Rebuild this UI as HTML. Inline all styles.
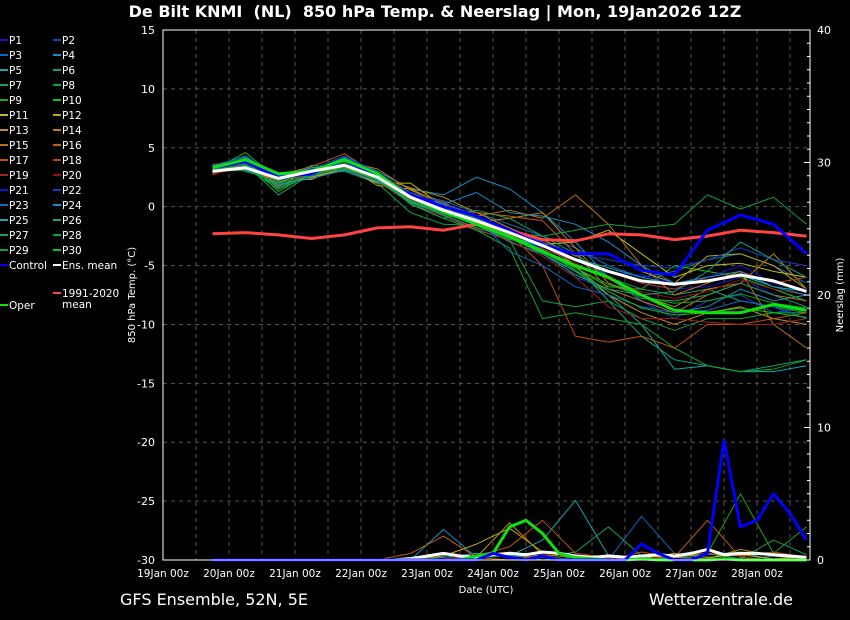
<!DOCTYPE html>
<html><head><meta charset="utf-8"><style>
html,body{margin:0;padding:0;background:#000;}
svg{display:block;font-family:"DejaVu Sans","Liberation Sans",sans-serif;}
</style></head><body>
<svg id="chart" width="850" height="620" viewBox="0 0 850 620" xmlns="http://www.w3.org/2000/svg">
<rect width="850" height="620" fill="#000"/>
<text x="435" y="17" fill="#fff" font-size="16" font-weight="bold" text-anchor="middle" style="white-space:pre">De Bilt KNMI  (NL)  850 hPa Temp. &amp; Neerslag | Mon, 19Jan2026 12Z</text>
<text x="120" y="605" fill="#fff" font-size="16">GFS Ensemble, 52N, 5E</text>
<text x="793" y="605" fill="#fff" font-size="16" text-anchor="end">Wetterzentrale.de</text>
<text x="486" y="593" fill="#fff" font-size="10" text-anchor="middle">Date (UTC)</text>
<text transform="translate(135,295) rotate(-90)" fill="#fff" font-size="10" text-anchor="middle">850 hPa Temp. (°C)</text>
<text transform="translate(843,295) rotate(-90)" fill="#fff" font-size="10" text-anchor="middle">Neerslag (mm)</text>
<g id="grid"></g><g id="precip"></g><g id="temps"></g><g id="axes"></g><g id="legend"></g>
</svg>
<script>
const xDayTicks=["19Jan 00z","20Jan 00z","21Jan 00z","22Jan 00z","23Jan 00z","24Jan 00z","25Jan 00z","26Jan 00z","27Jan 00z","28Jan 00z"];
const tempTicks=[15,10,5,0,-5,-10,-15,-20,-25,-30];
const precipTicks=[40,30,20,10,0];
const memberDays=[0.75,1.25,1.75,2.25,2.75,3.25,3.75,4.25,4.75,5.25,5.75,6.25,6.75,7.25,7.75,8.25,8.75,9.25,9.75];
const ensMean=[3.0,3.3,2.4,3.0,3.5,2.5,0.8,-0.3,-1.2,-2.2,-3.3,-4.5,-5.5,-6.3,-6.6,-6.3,-5.8,-6.3,-7.2];
const climMean=[-2.3,-2.2,-2.4,-2.7,-2.4,-1.8,-1.7,-2.0,-1.5,-2.0,-2.8,-2.9,-2.3,-2.4,-2.8,-2.5,-2.0,-2.2,-2.5];
const control=[3.3,3.8,2.5,2.8,4.0,2.5,1.0,0.0,-0.8,-2.0,-3.3,-4.0,-4.0,-5.4,-5.8,-2.0,-0.7,-1.5,-4.0];
const oper=[3.3,4.0,2.8,3.0,4.0,2.8,0.8,-0.4,-1.5,-2.5,-3.8,-5.0,-6.0,-7.5,-8.8,-9.0,-9.0,-8.3,-8.8];
const members=[
[3.2,3.5,2.2,2.8,3.6,2.4,0.6,-0.2,-1.0,-2.0,-3.0,-4.5,-5.5,-6.5,-7.0,-6.8,-6.0,-7.5,-8.0],
[3.0,3.8,2.0,3.2,3.0,2.8,1.0,0.2,-1.2,-2.5,-3.5,-6.0,-7.0,-8.0,-9.5,-8.0,-7.5,-9.0,-8.5],
[2.8,4.0,1.8,2.5,3.4,2.6,1.2,0.5,-0.5,-1.5,-2.5,-3.5,-5.0,-6.0,-5.5,-4.5,-4.0,-5.0,-6.5],
[3.5,4.2,2.6,3.0,4.2,3.0,1.5,1.0,2.5,1.5,-0.5,-3.0,-6.0,-8.0,-9.0,-8.5,-7.0,-8.0,-7.5],
[3.6,3.0,2.2,3.3,3.1,2.2,0.4,-0.5,-1.5,-3.0,-4.0,-5.5,-7.5,-10.0,-13.8,-13.5,-14.0,-14.0,-13.5],
[3.0,3.4,1.8,2.6,3.8,2.8,0.8,-0.8,-2.0,-2.8,-3.2,-5.0,-8.0,-11.0,-13.0,-13.5,-14.0,-13.5,-13.0],
[2.9,3.6,1.0,2.8,3.6,2.6,0.5,-0.6,-1.2,-2.2,-3.4,-4.5,-6.0,-7.0,-7.5,-7.0,-8.0,-8.5,-9.0],
[3.4,3.3,1.5,2.7,3.0,2.0,-0.5,-1.5,-1.6,-2.8,-8.0,-8.5,-8.0,-9.5,-10.5,-9.5,-9.5,-9.0,-9.0],
[3.1,4.6,2.3,3.5,3.3,2.4,0.2,-1.0,-2.0,-3.5,-9.5,-9.0,-9.5,-10.0,-12.0,-13.5,-14.0,-13.8,-13.0],
[3.3,3.9,1.3,2.9,3.7,2.7,0.7,-0.4,-1.4,-2.6,-3.8,-5.2,-6.8,-7.0,-5.0,-5.5,-6.0,-7.0,-8.0],
[3.4,3.7,2.8,2.5,3.2,2.0,2.0,0.0,-1.5,-2.2,-3.2,-3.0,-2.0,-4.0,-6.0,-5.0,-4.8,-5.5,-6.0],
[2.9,3.2,2.4,2.3,3.5,1.8,1.5,0.2,-1.0,-2.0,-2.8,-4.2,-4.0,-5.5,-6.5,-4.2,-4.0,-5.0,-7.0],
[3.0,3.5,2.0,3.1,4.0,2.5,1.6,0.8,-0.5,-1.8,-3.0,-5.0,-7.5,-9.0,-10.0,-9.0,-8.5,-9.5,-10.0],
[3.2,3.3,2.1,2.9,3.6,2.9,1.0,-0.2,-1.3,-1.0,-0.5,-3.5,-6.5,-7.5,-8.5,-7.0,-6.5,-4.0,-7.0],
[3.5,3.1,2.5,2.6,3.9,3.2,1.4,0.3,-0.8,-0.3,-1.0,1.0,-1.5,-5.0,-7.5,-6.5,-5.5,-10.0,-12.0],
[2.7,3.7,1.7,3.0,3.3,2.3,0.9,-0.1,-0.5,-0.8,-1.2,-4.0,-7.0,-8.0,-9.0,-7.5,-6.5,-7.5,-8.0],
[3.3,4.1,2.7,3.4,4.5,2.7,1.1,0.4,-1.1,-2.3,-5.0,-11.0,-11.5,-11.0,-12.0,-10.0,-10.0,-9.5,-9.0],
[3.1,3.4,2.2,3.0,3.5,2.5,0.6,-0.3,-1.6,-2.7,-3.6,-4.6,-5.5,-6.5,-7.0,-6.0,-5.5,-6.5,-6.0],
[3.6,3.8,2.0,2.7,3.2,2.1,0.3,-0.8,-1.9,-2.9,-4.2,-6.0,-8.5,-9.5,-9.5,-9.8,-10.0,-10.0,-9.5],
[2.8,3.3,2.4,2.9,3.7,2.6,0.8,-0.5,-1.3,-2.4,-3.3,-4.8,-6.2,-7.2,-7.8,-7.2,-6.2,-7.0,-7.5],
[3.2,3.6,2.3,2.8,3.4,2.5,0.7,-0.3,-1.1,-2.1,-3.1,-4.6,-5.6,-5.8,-6.5,-6.0,-5.0,-6.5,-7.0],
[3.0,3.9,2.1,3.2,4.3,2.9,1.2,0.3,-0.7,-2.0,-3.0,-4.0,-4.5,-5.0,-5.2,-4.5,-3.5,-4.5,-5.0],
[3.4,4.3,2.5,2.7,3.8,2.4,0.5,-0.4,-1.0,-3.8,-5.0,-6.8,-7.5,-8.5,-9.0,-8.8,-8.0,-8.5,-9.5],
[3.1,3.2,1.9,2.4,3.1,2.1,0.9,0.2,1.2,-0.5,-0.8,-1.5,-3.0,-5.0,-6.5,-6.0,-5.5,-6.8,-7.5],
[3.5,3.8,2.6,3.3,3.6,2.7,0.9,-0.2,-1.4,-2.5,-3.4,-4.4,-5.2,-6.0,-6.6,-6.4,-5.8,-6.8,-7.2],
[2.9,3.4,2.3,3.0,3.9,2.4,0.4,-0.7,-1.8,-2.6,-4.0,-5.8,-7.0,-7.5,-7.2,-5.5,-3.0,-4.5,-6.0],
[3.3,3.6,1.6,2.8,3.2,2.3,0.3,-1.0,-0.3,-1.0,-2.5,-4.0,-6.0,-7.8,-8.0,-7.5,-6.5,-7.5,-8.5],
[3.0,3.1,2.0,2.6,3.5,2.8,1.0,-0.2,-1.0,-2.2,-2.5,-2.0,-1.5,-1.8,-1.5,1.0,-0.2,0.8,-1.5],
[3.2,3.5,2.4,3.1,3.8,2.6,0.8,-0.6,-1.5,-2.7,-3.9,-5.2,-6.6,-7.6,-8.2,-8.0,-7.4,-8.2,-8.6],
[3.4,3.7,2.1,2.9,3.3,2.3,0.5,-0.5,-1.2,-2.6,-3.7,-5.4,-7.2,-8.6,-9.2,-9.0,-8.6,-9.0,-9.4]];
const memberPrecipIdx=[3,2,4,8,11,15,16,12,6];
const memberPrecip=[
[0,0,0,0,0,0,0,2.3,0.2,0.5,0,0.2,0,0.1,0,0,0,0,0],
[0,0,0,0,0,0,0,0,0.3,0.4,0.2,0,0,3.3,0.5,0.2,0,0.3,0],
[0,0,0,0,0,0,0,0.2,0.5,0.3,1.5,4.5,0.3,0,0.2,0.4,0.6,0,0],
[0,0,0,0,0,0,0,0,0.2,0.6,0.3,0,0.4,0.2,0.3,0.5,5,0.5,2.5],
[0,0,0,0,0,0,0,0.3,1.2,2.4,0.6,0.3,0.2,0.1,0.5,0.2,0.4,0.1,0.2],
[0,0,0,0,0,0,0.5,1.8,0.2,0,0.4,0.2,0,0.6,0.2,3,0.2,0,0.2],
[0,0,0,0,0,0,0,0.1,0.3,1.0,3.0,0.5,0.2,0,0.3,0.5,0.3,0.6,0.2],
[0,0,0,0,0,0,0,0,0.2,2.8,0.4,0.2,0.1,0.3,0.2,0.1,0.8,0.3,0.1],
[0,0,0,0,0,0,0.2,0.4,0.2,0.3,0.2,0.6,2.5,0.3,0.2,0.5,0.1,1.5,0.4]];
const fineDays=[0.75,1,1.25,1.5,1.75,2,2.25,2.5,2.75,3,3.25,3.5,3.75,4,4.25,4.5,4.75,5,5.25,5.5,5.75,6,6.25,6.5,6.75,7,7.25,7.5,7.75,8,8.25,8.5,8.75,9,9.25,9.5,9.75];
const controlPrecip=[0,0,0,0,0,0,0,0,0,0,0,0,0,0,0,0,0,0.5,0.2,0,0.3,0,0,0,0,0,1.2,0.5,0,0,0.5,9,2.5,3,5,3.5,1.5];
const operPrecip=[0,0,0,0,0,0,0,0,0,0,0,0,0,0,0,0,0.3,0.5,2.5,3,2,0.5,0.2,0.1,0,0,0.1,0,0,0,0,0.1,0,0,0,0,0];
const meanPrecip=[0,0,0,0,0,0,0,0,0,0,0,0,0.1,0.3,0.5,0.3,0.2,0.4,0.5,0.4,0.6,0.5,0.3,0.2,0.3,0.2,0.3,0.4,0.3,0.5,0.8,0.4,0.5,0.5,0.4,0.3,0.2];
const memberColors=["#1010e0","#1040c0","#1068c0","#1090c8","#10a8b0","#10a080","#10a060","#10a040","#10a820","#10c010","#c0c010","#c0a810","#c09010","#c08010","#c07010","#c06010","#c05010","#b04020","#a02020","#901010"];
const X0=163,X1=810,Y0=30,Y1=560,DAY=66;
const xs=d=>X0+d*DAY;
const yT=t=>Y1-(t+30)*(Y1-Y0)/45;
const yP=p=>Y1-p*(Y1-Y0)/40;
const NS="http://www.w3.org/2000/svg";
function mk(tag,parent,attrs){const e=document.createElementNS(NS,tag);for(const k in attrs)e.setAttribute(k,attrs[k]);parent.appendChild(e);return e;}
const grid=document.getElementById('grid'),axes=document.getElementById('axes'),temps=document.getElementById('temps'),precip=document.getElementById('precip'),legend=document.getElementById('legend');
for(let i=1;i<20;i++){const x=X0+i*DAY/2;if(x>X1)break;
 const l=mk('line',grid,{x1:x,x2:x,y1:Y0,y2:Y1,stroke:'#555','stroke-dasharray':'4,4','stroke-width':1});
 
 }
tempTicks.forEach(t=>{const y=yT(t);
 if(t>-30&&t<15){const l=mk('line',grid,{x1:X0,x2:X1,y1:y,y2:y,stroke:'#555','stroke-dasharray':'4,4','stroke-width':1});
 
 }
 const tx=mk('text',axes,{x:155,y:y+4,fill:'#fff','font-size':11,'text-anchor':'end'});tx.textContent=t;
 
 });
precipTicks.forEach(p=>{const tx=mk('text',axes,{x:817,y:yP(p)+4,fill:'#fff','font-size':11});tx.textContent=p;
 
 });
for(let p=1;p<40;p++){const y=yP(p);const l=mk('line',axes,{x1:X1-(p%10===0?6:3),x2:X1,y1:y,y2:y,stroke:'#fff','stroke-width':1});
 
 }
xDayTicks.forEach((s,i)=>{const tx=mk('text',axes,{x:xs(i),y:577,fill:'#fff','font-size':10.5,'text-anchor':'middle'});tx.textContent=s;
 
 });
const fr=mk('rect',axes,{x:X0,y:Y0,width:X1-X0,height:Y1-Y0,fill:'none',stroke:'#fff','stroke-width':1});


function path(g,days,vals,yf,color,w){return mk('polyline',g,{points:vals.map((v,i)=>xs(days[i]).toFixed(1)+','+yf(v).toFixed(1)).join(' '),fill:'none',stroke:color,'stroke-width':w,'stroke-linejoin':'round'});}
members.forEach((m,i)=>{const p=path(temps,memberDays,m,yT,memberColors[i%20],1);
 
 });
members.forEach((m,i)=>{const k=memberPrecipIdx.indexOf(i);const vals=k>=0?memberPrecip[k]:memberDays.map(()=>0);
 const p=path(precip,memberDays,vals,yP,memberColors[i%20],1);
 
 });
let e;
e=path(precip,fineDays,meanPrecip,yP,'#fff',3);


e=path(precip,fineDays,operPrecip,yP,'#10e010',3);


e=path(precip,fineDays,controlPrecip,yP,'#0000ff',3);


e=path(temps,memberDays,climMean,yT,'#ff4444',3);


e=path(temps,memberDays,control,yT,'#0000ff',3);


e=path(temps,memberDays,oper,yT,'#10e010',3);


e=path(temps,memberDays,ensMean,yT,'#fff',3);


function leg(x,y,color,label,w){const g=mk('g',legend,{});
 
 
 mk('line',g,{x1:x,x2:x+8,y1:y,y2:y,stroke:color,'stroke-width':w});
 const lines=label.split('\n');lines.forEach((s,j)=>{const t=mk('text',g,{x:x+9,y:y+4+j*11,fill:'#fff','font-size':10.5});t.textContent=s;});}
for(let i=0;i<30;i++){const col=i%2,row=Math.floor(i/2);leg(col?53:0,40+row*15,memberColors[i%20],'P'+(i+1),2);}
leg(0,265,'#0000ff','Control',2);
leg(53,265,'#fff','Ens. mean',2);
leg(53,293,'#ff4444','1991-2020\nmean',2);
leg(0,305,'#10e010','Oper',2);
</script>
</body></html>
